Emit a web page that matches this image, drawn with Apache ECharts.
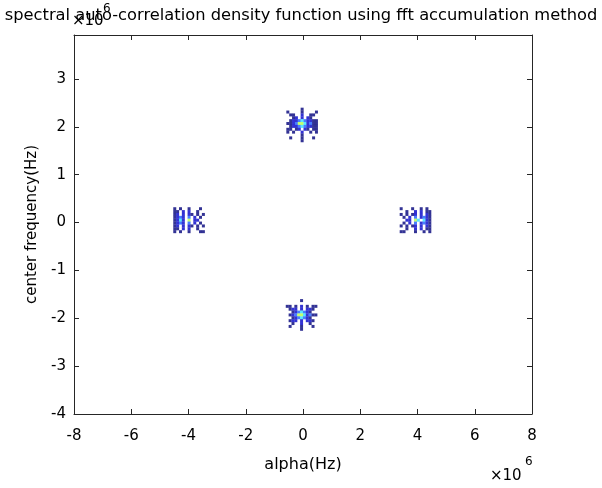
<!DOCTYPE html>
<html lang="en">
<head>
<meta charset="UTF-8">
<title>spectral auto-correlation density</title>
<script src="https://cdn.jsdelivr.net/npm/echarts@6/dist/echarts.min.js"></script>
<style>
    html, body { margin: 0; padding: 0; background: #fff; }
    #main { width: 602px; height: 488px; }
</style>
</head>
<body>
<div id="main"></div>
<script type="text/javascript">
    // axis ranges, in units of 10^6 Hz
    var xRange = [-8, 8];
    var yRange = [-4, 3.92];
    var xStep = 2;
    var yStep = 1;

    // resolution of the contour grid (data units)
    var cellX = 0.1;
    var cellY = 0.06;

    // centre of each blob [alpha, center frequency]
    var blobCenters = [[-0.03, 2.04], [-0.05, -1.93], [-3.98, 0.05], [3.93, 0.05]];

    // level maps, rows top to bottom, '.' = empty
    var topBlob = [
        ".....1.....",
        "1....1....1",
        ".11..2..11.",
        "..12.2.21..",
        ".1223432211",
        "11235542311",
        ".1223432211",
        "11.12.21.11",
        "1.1..2..1.1",
        ".....1.....",
        ".1...1...1.",
        ".....1....."
    ];
    var bottomBlob = [
        ".....1.....",
        "...........",
        "11.1.2.1.11",
        ".122.2.221.",
        "..1234321..",
        ".1235542311",
        "..1234321..",
        ".122.2.221.",
        "..1..2..1..",
        ".1...1...1.",
        ".....1....."
    ];
    var leftBlob = [
        "1.1..1...1.",
        "11.2.2..1..",
        "12.2.21.1.1",
        "1232.3.2.1.",
        "1242.5.22..",
        "1232.3.2.1.",
        "12.2.21.1.1",
        "11.2.2..1..",
        "1.1..1...11"
    ];
    var rightBlob = [
        "1...1..1.1.",
        "..1..2.2.11",
        "1.1.12.2.21",
        ".1.2.3.2321",
        "..22.54.421",
        ".1.2.3.2321",
        "1.1.12.2.21",
        "..1..2.2.11",
        "11...1..1.1"
    ];
    var blobMaps = [topBlob, bottomBlob, leftBlob, rightBlob];

    // jet-like colours for the contour levels
    var levelColors = ['#ffffff', '#00007a', '#0000c8', '#1a5cff', '#30e0ff', '#b8ff48'];

    var points = [];
    for (var b = 0; b < blobMaps.length; b++) {
        var map = blobMaps[b];
        var h = map.length, w = map[0].length;
        for (var r = 0; r < h; r++) {
            for (var c = 0; c < w; c++) {
                var ch = map[r].charAt(c);
                if (ch === '.' || ch === ' ') continue;
                points.push([
                    blobCenters[b][0] + (c - (w - 1) / 2) * cellX,
                    blobCenters[b][1] + ((h - 1) / 2 - r) * cellY,
                    +ch
                ]);
            }
        }
    }

    var font = 'DejaVu Sans';
    var ink = '#000';
    var axisInk = '#262626';

    function frameAxis(extra) {
        var a = {
            type: 'value',
            axisLine: { onZero: false, lineStyle: { color: axisInk, width: 1 } },
            axisTick: { inside: true, length: 5, lineStyle: { color: axisInk } },
            axisLabel: { show: false },
            splitLine: { show: false }
        };
        for (var k in extra) a[k] = extra[k];
        return a;
    }

    var chart = echarts.init(document.getElementById('main'));
    chart.setOption({
        animation: false,
        backgroundColor: '#fff',
        title: {
            text: 'spectral auto-correlation density function using fft accumulation method',
            left: 'center',
            top: 3,
            textStyle: { fontFamily: font, fontSize: 16.3, fontWeight: 'normal', color: ink }
        },
        grid: { left: 74, right: 70, top: 35, bottom: 74 },
        xAxis: [
            frameAxis({
                min: xRange[0], max: xRange[1], interval: xStep,
                name: 'alpha(Hz)', nameLocation: 'middle', nameGap: 43, nameMoveOverlap: false,
                nameTextStyle: { fontFamily: font, fontSize: 16, color: ink },
                axisLabel: { fontFamily: font, fontSize: 15, color: ink, margin: 15 }
            }),
            frameAxis({ position: 'top', min: xRange[0], max: xRange[1], interval: xStep })
        ],
        yAxis: [
            frameAxis({
                min: yRange[0], max: yRange[1], interval: yStep,
                name: 'center frequency(Hz)', nameLocation: 'middle', nameGap: 34, nameMoveOverlap: false,
                nameTextStyle: { fontFamily: font, fontSize: 15, color: ink },
                axisLabel: { fontFamily: font, fontSize: 15, color: ink, margin: 8, showMaxLabel: false }
            }),
            frameAxis({ position: 'right', min: yRange[0], max: yRange[1], interval: yStep })
        ],
        series: [{
            type: 'scatter',
            symbol: 'rect',
            symbolSize: 3,
            data: points,
            itemStyle: {
                color: function (p) { return levelColors[p.value[2]]; }
            }
        }],
        graphic: [
            { type: 'text', left: 72, top: 14, style: { text: '×10', font: '15px "DejaVu Sans"', fill: ink } },
            { type: 'text', left: 103, top: 3, style: { text: '6', font: '12px "DejaVu Sans"', fill: ink } },
            { type: 'text', left: 490, top: 469, style: { text: '×10', font: '15px "DejaVu Sans"', fill: ink } },
            { type: 'text', left: 525, top: 456, style: { text: '6', font: '12px "DejaVu Sans"', fill: ink } }
        ]
    });
</script>
</body>
</html>
